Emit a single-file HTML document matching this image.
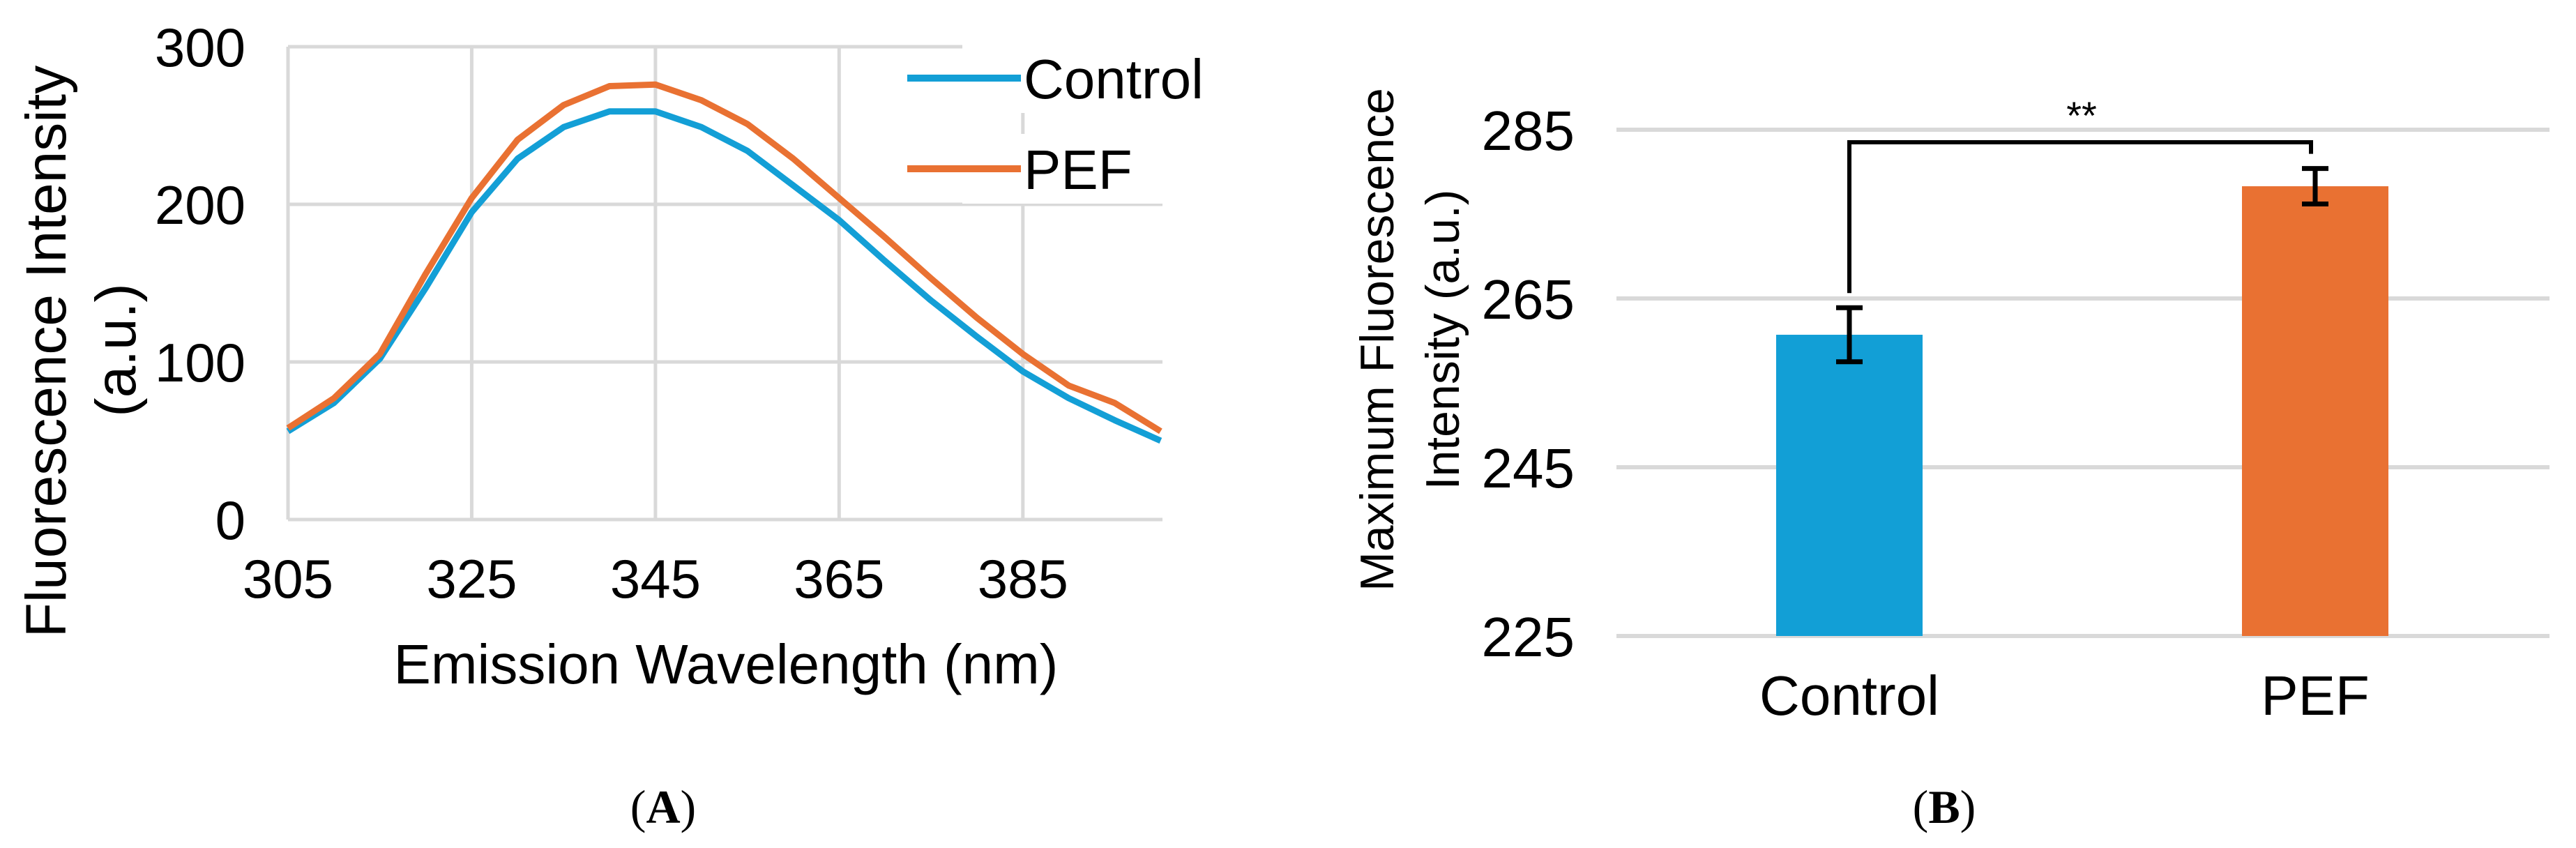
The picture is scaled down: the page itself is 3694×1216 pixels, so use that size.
<!DOCTYPE html>
<html><head><meta charset="utf-8"><style>
html,body{margin:0;padding:0;background:#fff}
svg{display:block}
text{font-family:"Liberation Sans",Arial,sans-serif;fill:#000}
</style></head><body>
<svg id="fig" width="3694" height="1216" viewBox="0 0 3694 1216" xmlns="http://www.w3.org/2000/svg">
<g id="chartA"></g>
<g id="chartB"></g>
<text x="951" y="1180" font-size="68" text-anchor="middle" style="font-family:'Liberation Serif',serif">(<tspan font-weight="bold">A</tspan>)</text>
<text x="2788" y="1180" font-size="68" text-anchor="middle" style="font-family:'Liberation Serif',serif">(<tspan font-weight="bold">B</tspan>)</text>
</svg>
<script>
const wavelengths=[305,310,315,320,325,330,335,340,345,350,355,360,365,370,375,380,385,390,395,400];
const controlSeries=[56,74,102,147,195,229,249,259,259,249,234,212,190,164,139,116,94,77,63,50];
const pefSeries=[58,77,105,156,204,241,263,275,276,266,251,229,204,179,153,128,105,85,74,56];
const xTicksA=[305,325,345,365,385];
const yTicksA=[0,100,200,300];
const categoriesB=["Control","PEF"];
const meansB=[260.7,278.3];
const errorsB=[3.2,2.1];
const yTicksB=[225,245,265,285];

const NS="http://www.w3.org/2000/svg";
function mk(parent,tag,attrs,txt){const e=document.createElementNS(NS,tag);for(const k in attrs)e.setAttribute(k,attrs[k]);if(txt!==undefined)e.textContent=txt;parent.appendChild(e);return e;}

// Chart A
const A=document.getElementById('chartA');
const axL=413,axR=1667,axT=67,axB=745;
const xA=v=>axL+(v-305)/(400.2-305)*(axR-axL);
const yA=v=>axB-(v/300)*(axB-axT);
yTicksA.forEach(t=>{
  const g=mk(A,'line',{x1:axL,x2:axR,y1:yA(t),y2:yA(t),stroke:'#d9d9d9','stroke-width':5});
  
  
  const l=mk(A,'text',{x:352,y:yA(t)+28,'font-size':78,'text-anchor':'end'},t);
  
  
});
xTicksA.forEach(t=>{
  const g=mk(A,'line',{x1:xA(t),x2:xA(t),y1:axT,y2:axB,stroke:'#d9d9d9','stroke-width':5});
  
  
  const l=mk(A,'text',{x:xA(t),y:857,'font-size':78,'text-anchor':'middle'},t);
  
  
});
function pathFor(vals){return vals.map((v,i)=>(i?'L':'M')+xA(wavelengths[i]).toFixed(1)+' '+yA(v).toFixed(1)).join(' ');}
const pc=mk(A,'path',{d:pathFor(controlSeries),fill:'none',stroke:'#139fd6','stroke-width':9,'stroke-linejoin':'round'});


const pp=mk(A,'path',{d:pathFor(pefSeries),fill:'none',stroke:'#e97132','stroke-width':9,'stroke-linejoin':'round'});


const xt=mk(A,'text',{x:1041,y:980,'font-size':80,'text-anchor':'middle'},'Emission Wavelength (nm)');


const yt=mk(A,'text',{x:0,y:0,'font-size':82,'text-anchor':'middle',transform:'translate(94,504) rotate(-90)'},'Fluorescence Intensity');


const yt2=mk(A,'text',{x:0,y:0,'font-size':82,'text-anchor':'middle',transform:'translate(194,502) rotate(-90)'},'(a.u.)');


[['Control','#139fd6',112],['PEF','#e97132',242]].forEach(([n,c,y])=>{
  const lg=mk(A,'g',{});
  
  
  mk(lg,'rect',{x:1380,y:y-50,width:300,height:100,fill:'#fff'});
  mk(lg,'line',{x1:1301,x2:1464,y1:y,y2:y,stroke:c,'stroke-width':10});
  mk(lg,'text',{x:1468,y:y+29,'font-size':80},n);
});

// Chart B
const B=document.getElementById('chartB');
const bL=2318,bR=3656;
const yB=v=>912-(v-225)/60*(912-186);
yTicksB.forEach(t=>{
  const g=mk(B,'line',{x1:bL,x2:bR,y1:yB(t),y2:yB(t),stroke:'#d9d9d9','stroke-width':6});
  
  
  const l=mk(B,'text',{x:2258,y:yB(t)+29,'font-size':80,'text-anchor':'end'},t);
  
  
});
const centers=[2652,3320],bw=210,colors=['#129fd6','#e97132'];
const tops=[];
categoriesB.forEach((c,i)=>{
  const r=mk(B,'rect',{x:centers[i]-bw/2,y:yB(meansB[i]),width:bw,height:yB(225)-yB(meansB[i]),fill:colors[i]});
  
  
  const e=mk(B,'path',{d:`M${centers[i]} ${yB(meansB[i]+errorsB[i])} V${yB(meansB[i]-errorsB[i])} M${centers[i]-19} ${yB(meansB[i]+errorsB[i])} h38 M${centers[i]-19} ${yB(meansB[i]-errorsB[i])} h38`,stroke:'#000','stroke-width':7,fill:'none'});
  
  
  tops.push(yB(meansB[i]+errorsB[i]));
  const l=mk(B,'text',{x:centers[i],y:1025,'font-size':80,'text-anchor':'middle'},c);
  
  
});
const br=mk(B,'path',{d:`M${centers[0]} ${tops[0]-21} V204 H${centers[1]-6} V${tops[1]-21}`,stroke:'#000','stroke-width':6,fill:'none'});


const st=mk(B,'text',{x:2985,y:185,'font-size':56,'text-anchor':'middle'},'**');


const by1=mk(B,'text',{x:0,y:0,'font-size':68,'text-anchor':'middle',transform:'translate(1998,487) rotate(-90)'},'Maximum Fluorescence');


const by2=mk(B,'text',{x:0,y:0,'font-size':68,'text-anchor':'middle',transform:'translate(2092,487) rotate(-90)'},'Intensity (a.u.)');


</script>
</body></html>
